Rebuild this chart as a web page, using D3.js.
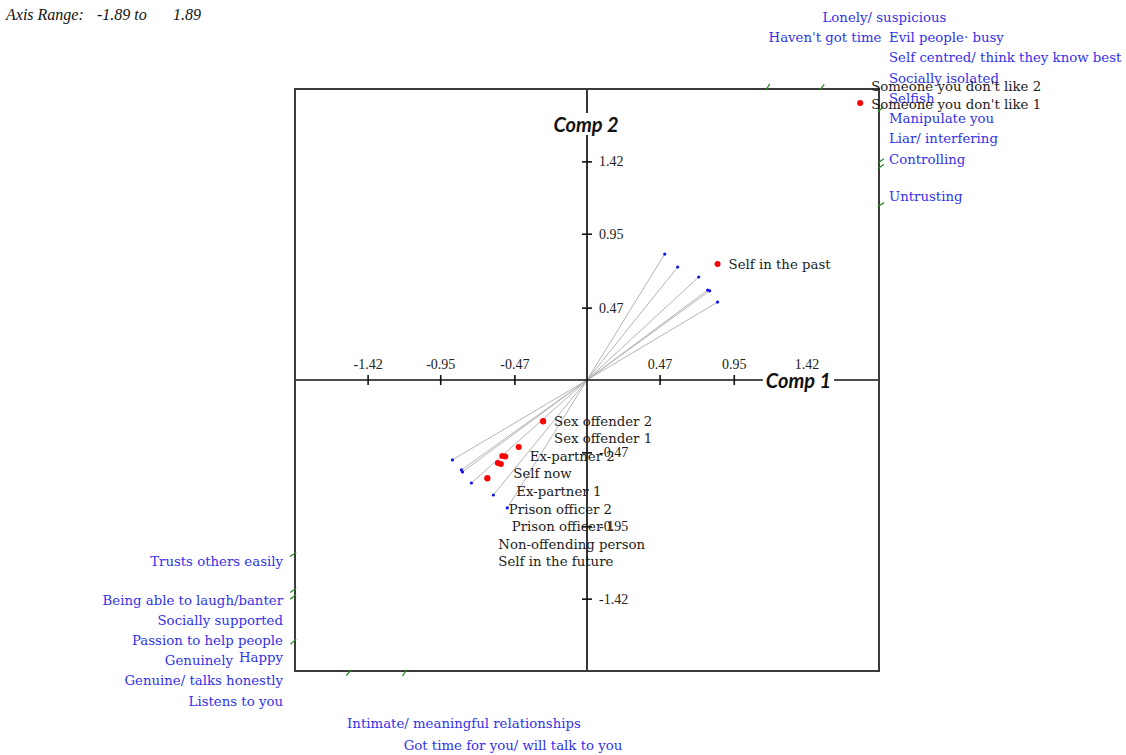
<!DOCTYPE html>
<html>
<head>
<meta charset="utf-8">
<script src="https://cdn.jsdelivr.net/npm/d3@7"></script>
<style>
  body { margin: 0; background: #fff; }
  svg { display: block; }
</style>
</head>
<body>
<svg id="chart" width="1126" height="755"></svg>
<script>
// ---- data -------------------------------------------------------------
const axisRange = 1.89;
const tickValues = [-1.42, -0.95, -0.47, 0.47, 0.95, 1.42];

// construct vectors (component 1, component 2)
const constructX = [0.503, 0.587, 0.723, 0.781, 0.794, 0.845, -0.871, -0.813, -0.806, -0.748, -0.606, -0.516];
const constructY = [0.818, 0.734, 0.669, 0.584, 0.579, 0.506, -0.519, -0.584, -0.597, -0.669, -0.747, -0.831];

// elements (component 1, component 2)
const elementNames = [
  "Self in the past", "Someone you don't like 1", "Someone you don't like 2",
  "Sex offender 1", "Sex offender 2", "Ex-partner 1", "Ex-partner 2", "Self now",
  "Prison officer 1", "Prison officer 2", "Non-offending person", "Self in the future"
];
const elementX = [0.845, 1.768, 1.768, -0.284, -0.284, -0.529, -0.442, -0.548, -0.558, -0.577, -0.645, -0.645];
const elementY = [0.753, 1.799, 1.906, -0.269, -0.266, -0.497, -0.435, -0.494, -0.545, -0.539, -0.636, -0.640];

// construct pole labels
const upperPoles = [
  "Lonely/ suspicious", "Haven't got time", "Evil people\u00b7 busy",
  "Self centred/ think they know best", "Socially isolated", "Selfish",
  "Manipulate you", "Liar/ interfering", "Controlling", "Untrusting"
];
const lowerPoles = [
  "Trusts others easily", "Being able to laugh/banter", "Socially supported",
  "Passion to help people", "Genuinely", "Happy", "Genuine/ talks honestly",
  "Listens to you", "Intimate/ meaningful relationships", "Got time for you/ will talk to you"
];

// ---- setup ------------------------------------------------------------
const svg = d3.select("#chart");
const x = d3.scaleLinear().domain([-axisRange, axisRange]).range([295, 879]);
const y = d3.scaleLinear().domain([-axisRange, axisRange]).range([671, 89]);
const x0 = x(0), y0 = y(0);
const frameLeft = x.range()[0], frameRight = x.range()[1];
const frameTop = y.range()[1], frameBottom = y.range()[0];

const serif = "'DejaVu Serif', serif";
const blue = "#3232ea";
const ink = "#1c1c1c";

svg.append("defs").append("clipPath").attr("id", "plotArea")
  .append("rect").attr("x", frameLeft).attr("y", frameTop)
  .attr("width", frameRight - frameLeft).attr("height", frameBottom - frameTop);

// header
const header = svg.append("g")
  .attr("font-family", "'Liberation Serif', serif")
  .attr("font-style", "italic").attr("font-size", 16).attr("fill", "#111");
header.append("text").attr("x", 6).attr("y", 14).attr("dy", "0.35em").text("Axis Range:");
header.append("text").attr("x", 97).attr("y", 14).attr("dy", "0.35em").text(`-${axisRange.toFixed(2)} to`);
header.append("text").attr("x", 173).attr("y", 14).attr("dy", "0.35em").text(axisRange.toFixed(2));

// ---- constructs -------------------------------------------------------
const constructs = constructX.map((cx, i) => ({ x: cx, y: constructY[i] }));

// point where the ray from the origin through a construct meets the frame
function frameHit(d) {
  const sx = x(d.x) - x0, sy = y(d.y) - y0;
  const ts = [];
  if (sx > 0) ts.push((frameRight - x0) / sx);
  if (sx < 0) ts.push((frameLeft - x0) / sx);
  if (sy > 0) ts.push((frameBottom - y0) / sy);
  if (sy < 0) ts.push((frameTop - y0) / sy);
  const t = Math.min(...ts);
  const len = Math.hypot(sx, sy);
  return { x: x0 + t * sx, y: y0 + t * sy, ux: sx / len, uy: sy / len };
}
const hits = constructs.map(frameHit);

const plot = svg.append("g").attr("clip-path", "url(#plotArea)");
plot.append("g").selectAll("line").data(constructs).join("line")
  .attr("x1", x0).attr("y1", y0)
  .attr("x2", d => x(d.x)).attr("y2", d => y(d.y))
  .attr("stroke", "#b4b4b4").attr("stroke-width", 1);

// ---- axes -------------------------------------------------------------
const fmt = d => d.toFixed(2);
const xAxis = svg.append("g")
  .attr("transform", `translate(0,${y0 + 5})`)
  .call(d3.axisTop(x).tickValues(tickValues).tickSize(10).tickPadding(6).tickFormat(fmt));
const yAxis = svg.append("g")
  .attr("transform", `translate(${x0 - 5},0)`)
  .call(d3.axisRight(y).tickValues(tickValues).tickSize(10).tickPadding(7).tickFormat(fmt));
[xAxis, yAxis].forEach(g => {
  g.select(".domain").remove();
  g.selectAll(".tick line").attr("stroke", "#111").attr("stroke-width", 1.6);
  g.selectAll(".tick text").attr("font-family", "'Liberation Serif', serif")
    .attr("font-size", 14).attr("fill", "#222");
});

svg.append("line").attr("x1", frameLeft).attr("x2", frameRight).attr("y1", y0).attr("y2", y0)
  .attr("stroke", "#111").attr("stroke-width", 1.7);
svg.append("line").attr("x1", x0).attr("x2", x0).attr("y1", frameTop).attr("y2", frameBottom)
  .attr("stroke", "#111").attr("stroke-width", 1.7);

svg.append("rect").attr("x", frameLeft).attr("y", frameTop)
  .attr("width", frameRight - frameLeft).attr("height", frameBottom - frameTop)
  .attr("fill", "none").attr("stroke", "#3a3a3a").attr("stroke-width", 2);

// axis titles on a white ground
function axisTitle(text, tx, ty, anchor) {
  const g = svg.append("g");
  const t = g.append("text").attr("x", tx).attr("y", ty).attr("dy", "0.35em")
    .attr("text-anchor", anchor)
    .attr("font-family", "Lato, 'Liberation Sans', sans-serif")
    .attr("font-weight", "bold").attr("font-style", "italic")
    .attr("font-size", 20).attr("fill", "#111").text(text);
  const b = t.node().getBBox();
  g.insert("rect", "text").attr("x", b.x - 3).attr("y", b.y + 1)
    .attr("width", b.width + 6).attr("height", b.height - 2).attr("fill", "#fff");
}
axisTitle("Comp 1", frameRight - 48, y0 + 1, "end");
axisTitle("Comp 2", x0 - 1, frameTop + 36, "middle");

// construct end points and frame ticks
plot.append("g").selectAll("circle").data(constructs).join("circle")
  .attr("cx", d => x(d.x)).attr("cy", d => y(d.y)).attr("r", 1.6).attr("fill", "#1010f0");

svg.append("g").selectAll("line").data(hits).join("line")
  .attr("x1", h => h.x - 1.5 * h.ux).attr("y1", h => h.y - 1.5 * h.uy)
  .attr("x2", h => h.x + 6 * h.ux).attr("y2", h => h.y + 6 * h.uy)
  .attr("stroke", "#2b8a2b").attr("stroke-width", 1.3);

// ---- pole labels ------------------------------------------------------
const poleG = svg.append("g").attr("font-family", serif).attr("font-size", 13.3).attr("fill", blue);
const rowStep = 20.3;
const colX = frameRight + 10;
const upperRow = i => 17 + i * rowStep;
const upperPos = [
  { x: hits[1].x + 2, y: upperRow(0) },
  { x: hits[0].x + 2, y: upperRow(1) },
  { x: colX, y: upperRow(1) },
  { x: colX, y: upperRow(2) },
  { x: colX, y: upperRow(3) },
  { x: colX, y: upperRow(4) },
  { x: colX, y: upperRow(5) },
  { x: colX, y: upperRow(6) },
  { x: colX, y: upperRow(7) },
  { x: colX, y: hits[5].y - 9 }
];
upperPoles.forEach((label, i) => {
  poleG.append("text").attr("x", upperPos[i].x).attr("y", upperPos[i].y)
    .attr("dy", "0.35em").text(label);
});

const endX = frameLeft - 12;
const lowerRow = i => 600 + i * 20.2;
const happy = poleG.append("text").attr("x", endX).attr("y", lowerRow(3) - 3)
  .attr("dy", "0.35em").attr("text-anchor", "end").text(lowerPoles[5]);
const happyW = happy.node().getComputedTextLength();
const lowerPos = [
  { x: endX, y: hits[6].y + 8, a: "end" },
  { x: endX, y: lowerRow(0), a: "end" },
  { x: endX, y: lowerRow(1), a: "end" },
  { x: endX, y: lowerRow(2), a: "end" },
  { x: endX - happyW - 6, y: lowerRow(3), a: "end" },
  null,
  { x: endX, y: lowerRow(4), a: "end" },
  { x: endX, y: lowerRow(5), a: "end" },
  { x: hits[10].x - 3, y: frameBottom + 52, a: "start" },
  { x: hits[11].x - 2, y: frameBottom + 74, a: "start" }
];
lowerPoles.forEach((label, i) => {
  const p = lowerPos[i];
  if (!p) return;
  poleG.append("text").attr("x", p.x).attr("y", p.y).attr("dy", "0.35em")
    .attr("text-anchor", p.a).text(label);
});

// ---- elements ---------------------------------------------------------
const elements = elementNames.map((name, i) => ({ name, x: elementX[i], y: elementY[i] }));
const inRange = d => Math.abs(d.x) <= axisRange && Math.abs(d.y) <= axisRange;

plot.append("g").selectAll("circle").data(elements.filter(inRange)).join("circle")
  .attr("cx", d => x(d.x)).attr("cy", d => y(d.y)).attr("r", 3).attr("fill", "#f00");

// labels sit right of their point, pushed down so they never overlap
const labelGap = 17.6;
const ordered = elements.slice().sort((a, b) => y(a.y) - y(b.y));
let prevY = -Infinity;
ordered.forEach(d => {
  d.ly = Math.max(y(d.y), prevY + labelGap);
  prevY = d.ly;
});
svg.append("g").attr("font-family", serif).attr("font-size", 13.3).attr("fill", ink)
  .selectAll("text").data(ordered).join("text")
  .attr("x", d => x(d.x) + 11).attr("y", d => d.ly).attr("dy", "0.35em")
  .text(d => d.name);
</script>
</body>
</html>
